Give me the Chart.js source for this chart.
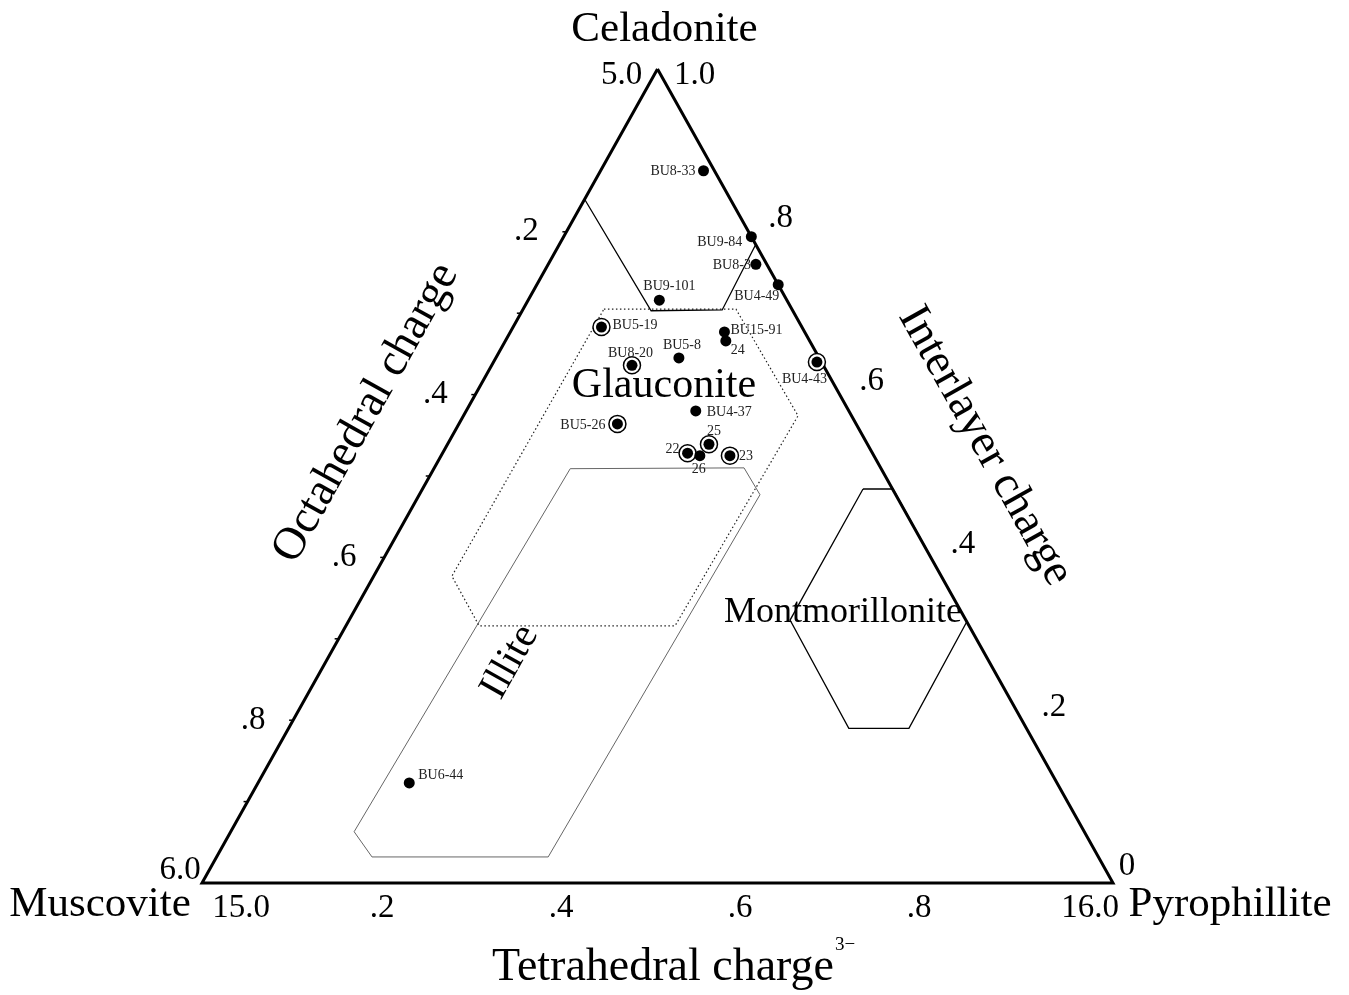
<!DOCTYPE html>
<html>
<head>
<meta charset="utf-8">
<script src="https://cdn.jsdelivr.net/npm/chart.js@4.4.0/dist/chart.umd.min.js"></script>
<style>
html, body { margin: 0; padding: 0; background: #fff; }
canvas { display: block; }
</style>
</head>
<body>
<canvas id="ternary" width="1349" height="995"></canvas>
<script>
// 样品数据：四面体电荷分数 (t) 与层间电荷 (i)，八面体 = 1 - t - i
const sampleNames = ['BU8-33', 'BU9-84', 'BU8-3', 'BU4-49', 'BU9-101', 'BU5-19', 'BU15-91', '24', 'BU5-8',
                     'BU8-20', 'BU4-43', 'BU4-37', 'BU5-26', '25', '22', '26', '23', 'BU6-44'];
const tetCharge   = [0.113, 0.206, 0.228, 0.265, 0.144, 0.097, 0.235, 0.242, 0.201,
                     0.154, 0.355, 0.252, 0.174, 0.287, 0.269, 0.284, 0.317, 0.166];
const interCharge = [0.875, 0.794, 0.760, 0.735, 0.716, 0.683, 0.677, 0.666, 0.645,
                     0.636, 0.640, 0.580, 0.564, 0.539, 0.528, 0.525, 0.525, 0.123];
const ringedSamples = ['BU5-19', 'BU8-20', 'BU4-43', 'BU5-26', '25', '22', '23'];

// 矿物区域边界 [t, i]
const celadoniteField = [[0.0, 0.84], [0.1415, 0.703], [0.219, 0.704], [0.2156, 0.785]];
const glauconiteField = [[0.0887, 0.705], [0.2336, 0.705], [0.3673, 0.574], [0.3613, 0.316],
                         [0.1462, 0.316], [0.0858, 0.377], [0.0887, 0.705]];
const illiteField = [[0.1497, 0.509], [0.340, 0.510], [0.374, 0.477], [0.364, 0.032],
                     [0.1706, 0.032], [0.1355, 0.063], [0.1497, 0.509]];
const montmorilloniteField = [[0.4836, 0.484], [0.5165, 0.484], [0.679, 0.321], [0.681, 0.190],
                              [0.615, 0.190], [0.484, 0.323], [0.4836, 0.484]];

// 轴刻度
const tickValues = [0, 0.2, 0.4, 0.6, 0.8, 1.0];
const bottomTickLabels = ['15.0', '.2', '.4', '.6', '.8', '16.0'];
const leftTickLabels = ['6.0', '.8', '.6', '.4', '.2', '5.0'];   // 自下而上
const rightTickLabels = ['0', '.2', '.4', '.6', '.8', '1.0'];    // 自下而上

function toXY(t, i) {
    return { x: t + i / 2, y: i };
}

const triangle = [toXY(0, 1), toXY(0, 0), toXY(1, 0), toXY(0, 1)];
const samplePoints = sampleNames.map((n, k) => toXY(tetCharge[k], interCharge[k]));
const ringPoints = sampleNames.map((n, k) => ringedSamples.includes(n) ? samplePoints[k] : null)
                              .filter(p => p);

function fieldLine(field, style) {
    return Object.assign({
        type: 'line',
        data: field.map(p => toXY(p[0], p[1])),
        showLine: true,
        fill: false,
        pointRadius: 0,
        tension: 0,
        clip: false,
        order: 4
    }, style);
}

// 样品标签位置（像素偏移）
const labelPlacement = {
    'BU8-33': [-8, 1, 'right'], 'BU9-84': [-9, 6, 'right'], 'BU8-3': [-5, 1, 'right'],
    'BU4-49': [-44, 12, 'left'], 'BU9-101': [-16, -14, 'left'], 'BU5-19': [11, -2, 'left'],
    'BU15-91': [6, -2, 'left'], '24': [5, 9, 'left'], 'BU5-8': [-16, -13, 'left'],
    'BU8-20': [-24, -12, 'left'], 'BU4-43': [-35, 17, 'left'], 'BU4-37': [11, 1, 'left'],
    'BU5-26': [-12, 1, 'right'], '25': [-2, -13, 'left'], '22': [-8, -4, 'right'],
    '26': [-8, 14, 'left'], '23': [9, 1, 'left'], 'BU6-44': [9, -8, 'left']
};

const SERIF = '"Liberation Serif", "DejaVu Serif", serif';

const ternaryText = {
    id: 'ternaryText',
    afterDatasetsDraw(chart) {
        const ctx = chart.ctx;
        const sx = chart.scales.x, sy = chart.scales.y;
        const px = p => ({ x: sx.getPixelForValue(p.x), y: sy.getPixelForValue(p.y) });
        const apex = px(toXY(0, 1)), bl = px(toXY(0, 0)), br = px(toXY(1, 0));
        const leftAngle = Math.atan2(apex.y - bl.y, apex.x - bl.x);
        const rightAngle = Math.atan2(br.y - apex.y, br.x - apex.x);

        ctx.save();
        ctx.fillStyle = '#000';
        ctx.textAlign = 'center';
        ctx.textBaseline = 'middle';

        // 左边刻度线
        ctx.strokeStyle = '#000';
        ctx.lineWidth = 1.5;
        for (let v = 0.1; v < 0.85; v += 0.1) {
            const p = px(toXY(0, v));
            ctx.beginPath();
            ctx.moveTo(p.x, p.y);
            ctx.lineTo(p.x - 4, p.y);
            ctx.stroke();
        }

        // 底边刻度标签
        ctx.font = '33px ' + SERIF;
        tickValues.forEach((v, k) => {
            const p = px(toXY(v, 0));
            let x = p.x - 16 * v + 1;
            if (k === 0) x = p.x + 39;
            if (k === tickValues.length - 1) x = p.x - 23;
            ctx.fillText(bottomTickLabels[k], x, p.y + 25);
        });
        // 左边刻度标签
        tickValues.forEach((v, k) => {
            const p = px(toXY(0, v));
            let x = p.x - 40, y = p.y;
            if (k === 0) { x = p.x - 22; y = p.y - 13; }
            if (k === tickValues.length - 1) { x = p.x - 36; y = p.y + 6; }
            ctx.fillText(leftTickLabels[k], x, y);
        });
        // 右边刻度标签
        tickValues.forEach((v, k) => {
            const p = px(toXY(1 - v, v));
            let x = p.x + 32, y = p.y - 13;
            if (k === 0) { x = p.x + 14; y = p.y - 17; }
            if (k === tickValues.length - 1) { x = p.x + 37; y = p.y + 6; }
            ctx.fillText(rightTickLabels[k], x, y);
        });

        // 端元名称
        ctx.font = '43px ' + SERIF;
        ctx.fillText('Celadonite', apex.x + 7, apex.y - 39);
        ctx.fillText('Muscovite', bl.x - 102, bl.y + 22);
        ctx.font = '43px ' + SERIF;
        ctx.fillText('Pyrophillite', br.x + 117, br.y + 22);

        // 轴标题
        ctx.font = '46px ' + SERIF;
        ctx.textAlign = 'right';
        ctx.fillText('Tetrahedral charge', 834, 968);
        ctx.textAlign = 'left';
        ctx.font = '19px ' + SERIF;
        ctx.fillText('3\u2212', 835, 945);
        ctx.textAlign = 'center';

        ctx.font = '46px ' + SERIF;
        ctx.save();
        ctx.translate(366, 413);
        ctx.rotate(leftAngle);
        ctx.fillText('Octahedral charge', 0, 0);
        ctx.restore();

        ctx.save();
        ctx.translate(985, 446);
        ctx.rotate(rightAngle);
        ctx.fillText('Interlayer charge', 0, 0);
        ctx.restore();

        // 区域名称
        ctx.font = '42px ' + SERIF;
        ctx.fillText('Glauconite', 664, 386);
        ctx.save();
        ctx.translate(510, 662);
        ctx.rotate(leftAngle);
        ctx.font = '41px ' + SERIF;
        ctx.fillText('Illite', 0, 0);
        ctx.restore();
        ctx.font = '36px ' + SERIF;
        ctx.fillText('Montmorillonite', 843, 613);

        // 样品标签
        ctx.font = '14px ' + SERIF;
        ctx.fillStyle = '#222';
        sampleNames.forEach((n, k) => {
            const p = px(samplePoints[k]);
            const pl = labelPlacement[n];
            ctx.textAlign = pl[2];
            ctx.fillText(n, p.x + pl[0], p.y + pl[1]);
        });
        ctx.restore();
    }
};

new Chart(document.getElementById('ternary'), {
    type: 'scatter',
    data: {
        datasets: [
            {
                label: 'samples',
                data: samplePoints,
                pointRadius: 5.5,
                pointHoverRadius: 5.5,
                backgroundColor: '#000',
                borderColor: '#000',
                borderWidth: 0,
                clip: false,
                order: 1
            },
            {
                label: 'ringed',
                data: ringPoints,
                pointRadius: 8.5,
                pointHoverRadius: 8.5,
                backgroundColor: '#fff',
                borderColor: '#000',
                borderWidth: 1.5,
                clip: false,
                order: 2
            },
            {
                type: 'line',
                label: 'triangle',
                data: triangle,
                showLine: true,
                fill: false,
                pointRadius: 0,
                borderColor: '#000',
                borderWidth: 3,
                borderJoinStyle: 'miter',
                tension: 0,
                clip: false,
                order: 3
            },
            fieldLine(celadoniteField, { label: 'Celadonite', borderColor: '#000', borderWidth: 1.3 }),
            fieldLine(glauconiteField, { label: 'Glauconite', borderColor: '#222', borderWidth: 1.2, borderDash: [1.5, 2.5] }),
            fieldLine(illiteField, { label: 'Illite', borderColor: '#666', borderWidth: 1 }),
            fieldLine(montmorilloniteField, { label: 'Montmorillonite', borderColor: '#000', borderWidth: 1.3 })
        ]
    },
    options: {
        responsive: false,
        animation: false,
        layout: {
            padding: { left: 202, right: 236, top: 69, bottom: 112 }
        },
        plugins: {
            legend: { display: false },
            tooltip: { enabled: false }
        },
        scales: {
            x: { type: 'linear', min: 0, max: 1, display: false },
            y: { type: 'linear', min: 0, max: 1, display: false }
        }
    },
    plugins: [ternaryText]
});
</script>
</body>
</html>
